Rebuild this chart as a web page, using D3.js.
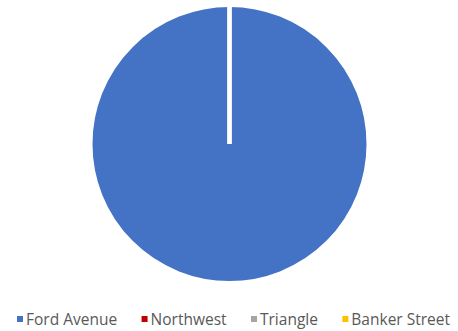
<!DOCTYPE html>
<html>
<head>
<meta charset="utf-8">
<script src="https://cdn.jsdelivr.net/npm/d3@7"></script>
<style>
  body { margin: 0; background: #fff; }
  svg { display: block; }
</style>
</head>
<body>
<div id="chart" style="width:458px;height:331px"></div>
<script>
const categories = ["Ford Avenue", "Northwest", "Triangle", "Banker Street"];
const values = [100, 0, 0, 0];
const colors = ["#4472C4", "#C00000", "#A5A5A5", "#FFC000"];

const width = 458, height = 331;
const cx = 229.5, cy = 144, radius = 137;

const svg = d3.select("#chart").append("svg")
    .attr("width", width)
    .attr("height", height);

const data = categories.map((c, i) => ({ name: c, value: values[i], color: colors[i] }));

const pie = d3.pie().sort(null).value(d => d.value);
const arc = d3.arc().innerRadius(0).outerRadius(radius + 2);

// slices
svg.append("g")
    .attr("transform", `translate(${cx},${cy})`)
    .selectAll("path")
    .data(pie(data))
    .join("path")
    .attr("d", arc)
    .attr("fill", d => d.data.color)
    .attr("stroke", "#fff")
    .attr("stroke-width", 4)
    .attr("stroke-linejoin", "miter");

// legend
const legend = svg.append("g")
    .attr("font-family", "'Open Sans', sans-serif")
    .attr("font-size", 15.5)
    .attr("fill", "#595959");

const items = legend.selectAll("g")
    .data(data)
    .join("g");

items.append("rect")
    .attr("width", 6)
    .attr("height", 6)
    .attr("y", -3)
    .attr("fill", d => d.color);

items.append("text")
    .attr("x", 9)
    .attr("y", 5.5)
    .text(d => d.name);

// spread legend entries over the same span as the original
const x0 = 17, x1 = 450;
const widths = [];
items.each(function () {
    widths.push(9 + d3.select(this).select("text").node().getComputedTextLength());
});
const gap = (x1 - x0 - d3.sum(widths)) / (data.length - 1);
let xPos = x0;
items.each(function (d, i) {
    d3.select(this).attr("transform", `translate(${xPos},0)`);
    xPos += widths[i] + gap;
});
legend.attr("transform", `translate(0,${319})`);
</script>
</body>
</html>
